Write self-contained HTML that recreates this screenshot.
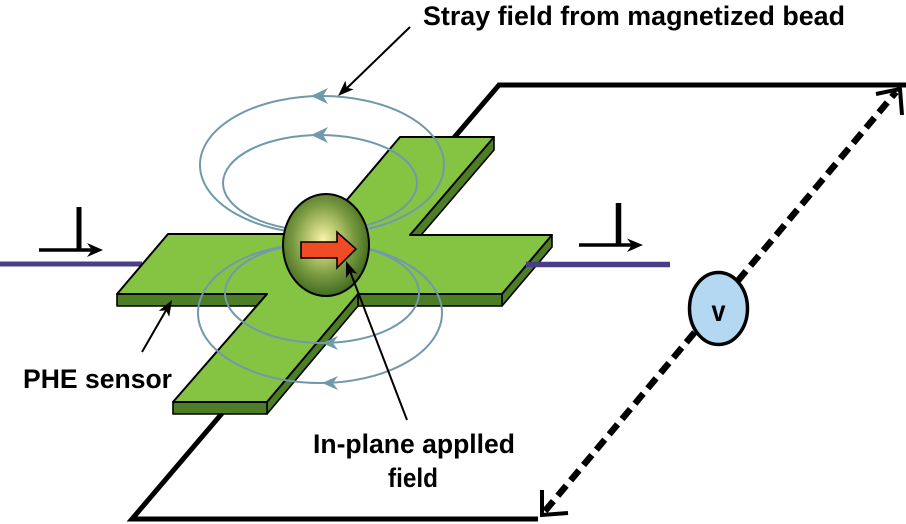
<!DOCTYPE html>
<html>
<head>
<meta charset="utf-8">
<style>
html,body{margin:0;padding:0;background:#fff;}
svg{display:block;}
text{font-family:"Liberation Sans",Arial,sans-serif;font-weight:bold;fill:#000;}
</style>
</head>
<body>
<svg width="906" height="524" viewBox="0 0 906 524" xmlns="http://www.w3.org/2000/svg">
<defs>
<radialGradient id="bead" cx="0.47" cy="0.45" r="0.58">
<stop offset="0" stop-color="#f8f5ac"/>
<stop offset="0.25" stop-color="#c6d07a"/>
<stop offset="0.6" stop-color="#7b9b42"/>
<stop offset="1" stop-color="#3a651b"/>
</radialGradient>
</defs>

<!-- purple line left -->
<line x1="0" y1="264" x2="142" y2="264" stroke="#4a3e87" stroke-width="5"/>

<!-- black wires -->
<polyline points="452,140 499,85 906,85" fill="none" stroke="#000" stroke-width="5"/>
<polyline points="230,404 132,519 538,519" fill="none" stroke="#000" stroke-width="5"/>

<!-- cross side faces -->
<g fill="#4d7d24" stroke="#000" stroke-width="1.6" stroke-linejoin="round">
<polygon points="494,137 494,150 410,248 410,235"/>
<polygon points="552,235 552,247 502,306 502,294"/>
<polygon points="358,294 502,294 502,306 358,306"/>
<polygon points="358,294 358,306 267,414 267,402"/>
<polygon points="173,402 267,402 267,414 173,414"/>
<polygon points="117,294 267,294 267,306 117,306"/>
</g>
<!-- cross top face -->
<polygon points="400,137 494,137 410,235 552,235 502,294 358,294 267,402 173,402 267,294 117,294 168,234 318,234"
 fill="#84c442" stroke="#000" stroke-width="2" stroke-linejoin="round"/>

<!-- purple line right -->
<line x1="526" y1="264.5" x2="670" y2="264.5" stroke="#4a3e87" stroke-width="5.5"/>

<!-- stray field loops -->
<g fill="none" stroke="#7199ac" stroke-width="2">
<ellipse cx="322" cy="165" rx="122" ry="69"/>
<ellipse cx="320" cy="183" rx="97" ry="48"/>
<ellipse cx="320" cy="313" rx="122" ry="70"/>
<ellipse cx="322" cy="293" rx="97" ry="50"/>
</g>
<g fill="#7199ac">
<polygon points="311,96 328,88 323,96 328,104"/>
<polygon points="311,135 328,127 323,135 328,143"/>
<polygon points="322,343 338,336 333,343 338,350"/>
<polygon points="322,383 338,376 333,383 338,390"/>
</g>

<!-- bead -->
<ellipse cx="326" cy="245" rx="43" ry="51" fill="url(#bead)" stroke="#000" stroke-width="2"/>
<!-- red arrow -->
<polygon points="301,242 337,242 337,232 356,249 337,268 337,258 301,258" fill="#f04b24" stroke="#000" stroke-width="1.6" stroke-linejoin="miter"/>

<!-- label arrows -->
<g stroke="#000" stroke-width="2" fill="none">
<line x1="410" y1="27" x2="347" y2="88"/>
<line x1="407" y1="420" x2="350.3" y2="272"/>
<line x1="142" y1="352" x2="166" y2="310.4"/>
</g>
<g fill="#000">
<polygon points="338,96 353.7,89.3 346.7,87.7 345.4,80.6"/>
<polygon points="346,261 357.3,273.8 350.3,272.2 346.1,278.1"/>
<polygon points="172,300 169.2,316.9 166,310.4 158.8,310.9"/>
</g>

<!-- perpendicular symbols -->
<g stroke="#000" fill="none">
<line x1="79" y1="207" x2="79" y2="251" stroke-width="5"/>
<line x1="39" y1="250" x2="93" y2="250" stroke-width="3.5"/>
<line x1="618.5" y1="203" x2="618.5" y2="246" stroke-width="5.5"/>
<line x1="579" y1="245" x2="632" y2="245" stroke-width="3.5"/>
</g>
<g fill="#000">
<polygon points="103,250 87,243 92,250 87,257"/>
<polygon points="643,245 627,238.5 632,245 627,252"/>
</g>

<!-- dashed voltage line -->
<line x1="545" y1="511" x2="896" y2="92" stroke="#000" stroke-width="6.5" stroke-dasharray="13 7"/>
<polyline points="876,94 900,89 902,115" fill="none" stroke="#000" stroke-width="4"/>
<polyline points="542,490 542,515 568,513" fill="none" stroke="#000" stroke-width="4"/>

<!-- voltmeter -->
<ellipse cx="718.5" cy="308.5" rx="29" ry="36" fill="#b4d8f2" stroke="#000" stroke-width="3.5"/>
<text x="711.5" y="321" font-size="30" textLength="14" lengthAdjust="spacingAndGlyphs">v</text>

<!-- labels -->
<text x="423" y="25" font-size="27" textLength="422" lengthAdjust="spacingAndGlyphs">Stray field from magnetized bead</text>
<text x="313" y="453" font-size="27" textLength="202" lengthAdjust="spacingAndGlyphs">In-plane applled</text>
<text x="388" y="487" font-size="27" textLength="50" lengthAdjust="spacingAndGlyphs">field</text>
<text x="23" y="388" font-size="27" textLength="149" lengthAdjust="spacingAndGlyphs">PHE sensor</text>
</svg>
</body>
</html>
